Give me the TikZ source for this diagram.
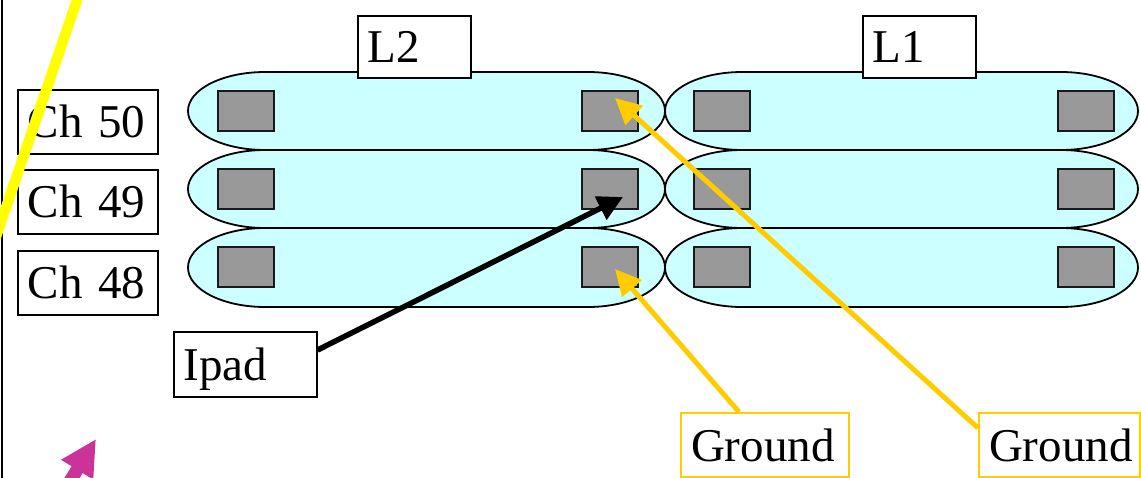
\documentclass[tikz,border=0pt]{standalone}
\usepackage{fontspec}
\setmainfont{Liberation Serif}
\usetikzlibrary{arrows.meta,calc}
\definecolor{stadfill}{HTML}{CCFFFF}
\definecolor{padgray}{HTML}{999999}
\definecolor{gold}{HTML}{FFCC00}
\definecolor{magentaarrow}{HTML}{CC3399}
\definecolor{brightyellow}{HTML}{FFFF00}
\begin{document}
\begin{tikzpicture}[x=1pt,y=1pt,
 stad/.style={draw=black, fill=stadfill, line width=1.8pt},
 pad/.style={draw=black!90, fill=padgray, line width=2pt, minimum width=56pt, minimum height=40pt, inner sep=0pt},
 lbl/.style={draw=black, fill=white, line width=1.6pt, font=\fontsize{47}{50}\selectfont, inner xsep=10pt, inner ysep=0pt, text height=32pt, text depth=0pt, align=left, anchor=north west},
 glbl/.style={lbl, draw=gold, line width=2pt},
 blackarrow/.style={line width=5.5pt, -{Triangle[length=25pt,width=25pt]}},
 goldarrow/.style={gold, line width=5pt, -{Triangle[length=26pt,width=25pt]}},
]
\useasboundingbox (0,0) rectangle (1141,-477);
\clip (0,0) rectangle (1141,-477);
\fill[white] (0,0) rectangle (1141,-477);
\draw[line width=2pt] (1.5,5) -- (1.5,-482);
% stadium shapes
\foreach \a/\b/\t/\u in {188/665/72/150, 665/1138/72/150, 188/665/150/228, 665/1138/150/228, 188/665/228/307, 665/1138/228/307} {
  \pgfmathsetmacro\ry{(\u-\t)/2}
  \draw[stad] ({\a+77},-\t) -- ({\b-77},-\t)
    arc[start angle=90,end angle=-90,x radius=77,y radius=\ry]
    -- ({\a+77},-\u)
    arc[start angle=270,end angle=90,x radius=77,y radius=\ry] -- cycle;
}
% pads
\foreach \cx/\c in {246/a,610/b,722/c,1085.5/d} {
  \foreach \cy/\r in {111/1,188.5/2,267/3} {
    \node[pad] (pad\c\r) at (\cx,-\cy) {};
  }
}
% labels
\node[lbl, text width=93pt, minimum height=62pt] (L2) at (357,-15) {L2};
\node[lbl, text width=93pt, minimum height=62pt] (L1) at (862,-15) {L1};
\node[lbl, text width=120pt, minimum height=64pt] (ch50) at (17,-89) {Ch 50};
\node[lbl, text width=120pt, minimum height=64pt] (ch49) at (17,-169) {Ch 49};
\node[lbl, text width=120pt, minimum height=64pt] (ch48) at (17,-250) {Ch 48};
\node[lbl, text width=123pt, minimum height=65pt] (ipad) at (173,-331) {Ipad};
\node[glbl, text width=148pt, minimum height=64pt] (gnd1) at (680,-412) {Ground};
\node[glbl, text width=141pt, minimum height=64pt] (gnd2) at (978,-412) {Ground};
% connectors
\draw[blackarrow] ($(ipad.north east)+(0,-19)$) -- ($(padb2.center)+(13,-8.5)$);
\draw[goldarrow] ($(gnd1.north west)+(59,0)$) -- ($(padb3.center)+(5,-2)$);
\draw[goldarrow] ($(gnd2.north west)+(0,-16)$) -- ($(padb1.center)+(5,13)$);
% magenta arrow
\coordinate (mA) at (56,-504);
\coordinate (mB) at (96,-439);
\draw[magentaarrow, line width=13pt, -{Triangle[length=36pt,width=35pt]}] (mA) -- (mB);
% yellow line
\coordinate (yA) at (80.5,10);
\coordinate (yB) at (-12,-260);
\draw[brightyellow, line width=10.5pt] (yA) -- (yB);
\end{tikzpicture}
\end{document}
